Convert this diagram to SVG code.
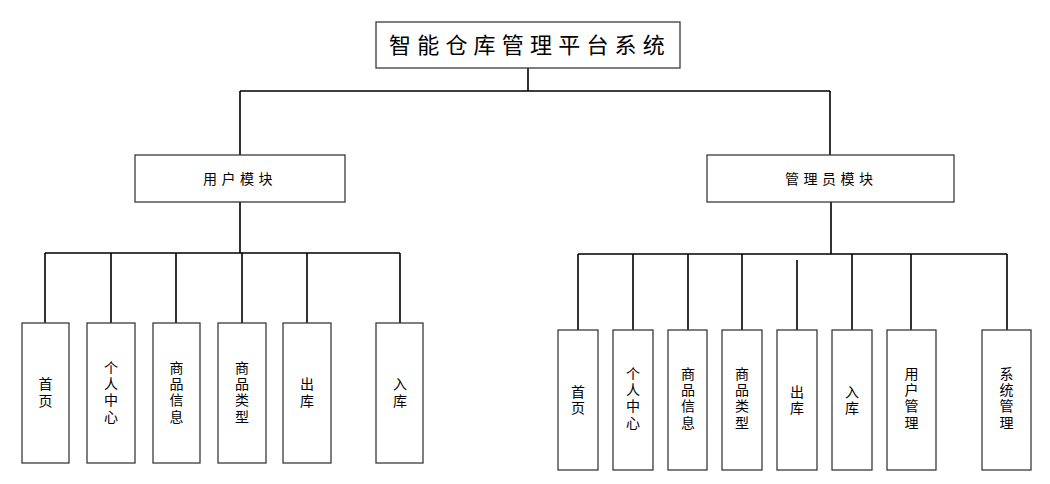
<svg xmlns="http://www.w3.org/2000/svg" width="1050" height="484" viewBox="0 0 1050 484">
<style>
.box{fill:#fff;stroke:#3a3a3a;stroke-width:1.3}
.ln{stroke:#000;stroke-width:1.6;fill:none}
text{font-family:"Noto Sans CJK SC","Noto Sans",sans-serif;fill:#000}
.t{font-size:22px;letter-spacing:6.2px}
.m{font-size:14px;letter-spacing:4.5px}
.c{font-size:14px;text-anchor:middle}
</style>
<rect width="1050" height="484" fill="#fff"/>
<g id="connectors">
<path class="ln" d="M528 68V91M240 91H830M240 91V155M830 91V155"/>
<path class="ln" d="M240 202V253M45 253H400M45 253V323M111 253V323M176 253V323M242 253V323M307 253V323M400 253V323"/>
<path class="ln" d="M831 202V254M578 254H1007M578 254V330M633 254V330M688 254V330M742 254V330M797 260V330M852 254V330M911 254V330M1007 254V330"/>
</g>
<g id="root"><rect class="box" x="376" y="22" width="304" height="46"/><text class="t" x="389" y="53">智能仓库管理平台系统</text></g>
<g id="user"><rect class="box" x="135" y="155" width="210" height="47"/><text class="m" x="203" y="184">用户模块</text></g>
<g id="admin"><rect class="box" x="707" y="155" width="247" height="47"/><text class="m" x="785" y="184">管理员模块</text></g>
<g id="u1"><rect class="box" x="22" y="323" width="47" height="140"/><text class="c"><tspan x="45.5" y="389">首</tspan><tspan x="45.5" y="406">页</tspan></text></g>
<g id="u2"><rect class="box" x="87" y="323" width="48" height="140"/><text class="c"><tspan x="111" y="373">个</tspan><tspan x="111" y="389">人</tspan><tspan x="111" y="405">中</tspan><tspan x="111" y="422">心</tspan></text></g>
<g id="u3"><rect class="box" x="153" y="323" width="47" height="140"/><text class="c"><tspan x="176.5" y="373">商</tspan><tspan x="176.5" y="389">品</tspan><tspan x="176.5" y="405">信</tspan><tspan x="176.5" y="422">息</tspan></text></g>
<g id="u4"><rect class="box" x="218" y="323" width="48" height="140"/><text class="c"><tspan x="242" y="373">商</tspan><tspan x="242" y="389">品</tspan><tspan x="242" y="405">类</tspan><tspan x="242" y="422">型</tspan></text></g>
<g id="u5"><rect class="box" x="283" y="323" width="48" height="140"/><text class="c"><tspan x="307" y="389">出</tspan><tspan x="307" y="406">库</tspan></text></g>
<g id="u6"><rect class="box" x="376" y="323" width="47" height="140"/><text class="c"><tspan x="400" y="389">入</tspan><tspan x="400" y="406">库</tspan></text></g>
<g id="a1"><rect class="box" x="558" y="330" width="40" height="140"/><text class="c"><tspan x="578" y="397">首</tspan><tspan x="578" y="413">页</tspan></text></g>
<g id="a2"><rect class="box" x="613" y="330" width="40" height="140"/><text class="c"><tspan x="633" y="379">个</tspan><tspan x="633" y="395">人</tspan><tspan x="633" y="411">中</tspan><tspan x="633" y="428">心</tspan></text></g>
<g id="a3"><rect class="box" x="668" y="330" width="39" height="140"/><text class="c"><tspan x="688" y="379">商</tspan><tspan x="688" y="395">品</tspan><tspan x="688" y="411">信</tspan><tspan x="688" y="428">息</tspan></text></g>
<g id="a4"><rect class="box" x="722" y="330" width="40" height="140"/><text class="c"><tspan x="742" y="379">商</tspan><tspan x="742" y="395">品</tspan><tspan x="742" y="411">类</tspan><tspan x="742" y="428">型</tspan></text></g>
<g id="a5"><rect class="box" x="777" y="330" width="40" height="140"/><text class="c"><tspan x="797" y="397">出</tspan><tspan x="797" y="413">库</tspan></text></g>
<g id="a6"><rect class="box" x="832" y="330" width="40" height="140"/><text class="c"><tspan x="852" y="397">入</tspan><tspan x="852" y="413">库</tspan></text></g>
<g id="a7"><rect class="box" x="887" y="330" width="49" height="140"/><text class="c"><tspan x="911.5" y="379">用</tspan><tspan x="911.5" y="395">户</tspan><tspan x="911.5" y="411">管</tspan><tspan x="911.5" y="428">理</tspan></text></g>
<g id="a8"><rect class="box" x="982" y="330" width="49" height="140"/><text class="c"><tspan x="1006.5" y="379">系</tspan><tspan x="1006.5" y="395">统</tspan><tspan x="1006.5" y="411">管</tspan><tspan x="1006.5" y="428">理</tspan></text></g>
</svg>
